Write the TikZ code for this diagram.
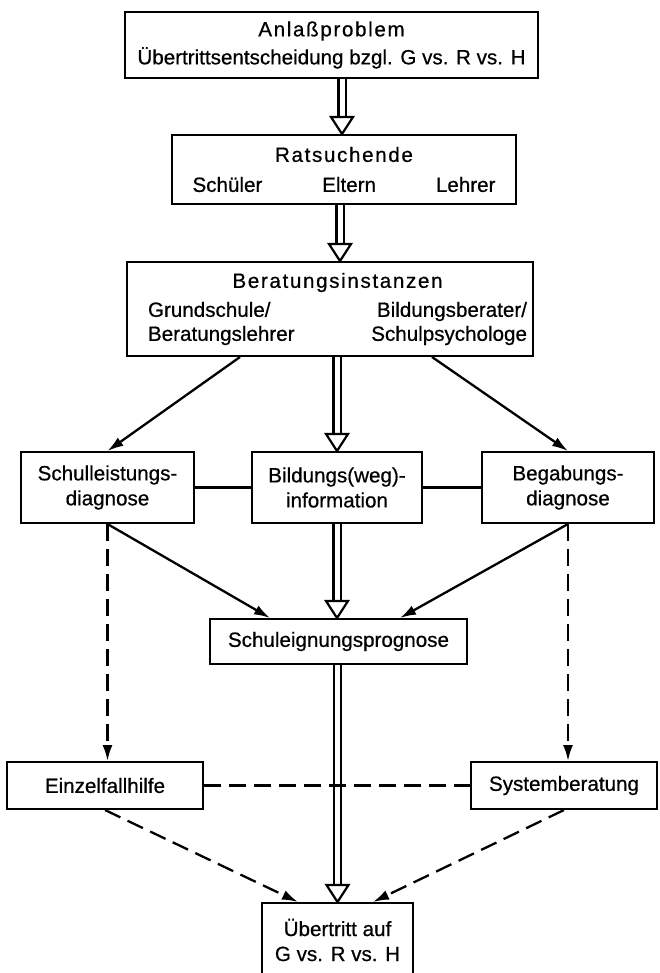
\documentclass[tikz,border=0pt]{standalone}
\usepackage{fontspec}
\setmainfont[FakeBold=0.6]{Liberation Sans}
\usetikzlibrary{arrows.meta,calc}
\newcommand\spaced[1]{{\addfontfeatures{LetterSpace=8}#1}}
\newcommand\dblarr[2]{%
  \draw[dblline] (#1) -- ($(#2)+(0,-16)$);
  \draw[dblhead] ($(#2)+(-11,-17)$) -- (#2) -- ($(#2)+(11,-17)$) -- cycle;}
\begin{document}
\begin{tikzpicture}[x=1pt,y=-1pt,
  box/.style={draw, line width=2pt, inner sep=0pt, font=\fontsize{20.6}{25}\selectfont},
  conn/.style={line width=2.3pt, -{Latex[length=16pt,width=10pt]}},
  dconn/.style={conn, dash pattern=on 17pt off 8pt},
  dline/.style={line width=2.3pt, dash pattern=on 17pt off 8pt},
  sline/.style={line width=2.3pt},
  dblline/.style={double, double distance=5pt, line width=2.3pt},
  dblhead/.style={line width=2.2pt, fill=white, line join=miter}]
\useasboundingbox (0,0) rectangle (659,973);
\clip (0,0) rectangle (659,973);

% boxes
\node[box, minimum width=413, minimum height=66] (b1) at (331.5,45)
  {\parbox{405pt}{\centering\spaced{Anlaßproblem}\\[3pt]
   Übertrittsentscheidung bzgl. G vs. R vs. H}};
\node[box, minimum width=344, minimum height=69] (b2) at (344,169.5)
  {\parbox{303pt}{\centering\spaced{Ratsuchende}\\[5pt]
   Schüler\hfill Eltern\hfill Lehrer}};
\node[box, minimum width=406, minimum height=94] (b3) at (330,309)
  {\hspace{15pt}\parbox{379pt}{\baselineskip=24pt\centering\spaced{Beratungsinstanzen}\\[5pt]
   Grundschule/\hfill Bildungsberater/\\
   Beratungslehrer\hfill Schulpsychologe}};
\node[box, minimum width=173, minimum height=71] (s1) at (107.5,487.5)
  {\parbox{170pt}{\centering Schulleistungs-\\diagnose}};
\node[box, minimum width=170, minimum height=71] (s2) at (337,487.5)
  {\parbox{168pt}{\centering Bildungs(weg)-\\information}};
\node[box, minimum width=172, minimum height=71] (s3) at (568,487.5)
  {\parbox{170pt}{\centering Begabungs-\\diagnose}};
\node[box, minimum width=257, minimum height=45] (prog) at (338.5,641.5)
  {Schuleignungsprognose};
\node[box, minimum width=196, minimum height=47] (e1) at (105,785.5)
  {Einzelfallhilfe};
\node[box, minimum width=186, minimum height=47] (sys) at (564,785.5)
  {Systemberatung};
\node[box, minimum width=151, minimum height=74] (ueb) at (337.5,940)
  {\parbox{150pt}{\centering Übertritt auf\\G vs. R vs. H}};

% helper coordinates for the double arrows
\coordinate (a1) at ([xshift=-2pt]b2.north);
\coordinate (a2) at (340,0 |- b3.north);
\coordinate (a2s) at (340,0 |- b2.south);

% double arrows
\dblarr{a1 |- b1.south}{a1}
\dblarr{a2s}{a2}
\dblarr{s2.north |- b3.south}{s2.north}
\dblarr{s2.south}{s2.south |- prog.north}
\dblarr{ueb.north |- prog.south}{ueb.north}

% solid connectors
\draw[conn] (240,0 |- b3.south) -- (s1.north);
\draw[conn] (432,0 |- b3.south) -- (s3.north);
\draw[sline] (s1.east) -- (s2.west);
\draw[sline] (s2.east) -- (s3.west);
\draw[conn] (s1.south) -- (270,0 |- prog.north);
\draw[conn] (s3.south) -- (400,0 |- prog.north);

% dashed connectors
\draw[dconn] (s1.south) -- (s1.south |- e1.north);
\draw[dconn] (s3.south) -- (s3.south |- sys.north);
\draw[dline] (e1.east) -- (sys.west);
\draw[dconn] (e1.south) -- (298,0 |- ueb.north);
\draw[dconn] (sys.south) -- (373,0 |- ueb.north);
\end{tikzpicture}
\end{document}
